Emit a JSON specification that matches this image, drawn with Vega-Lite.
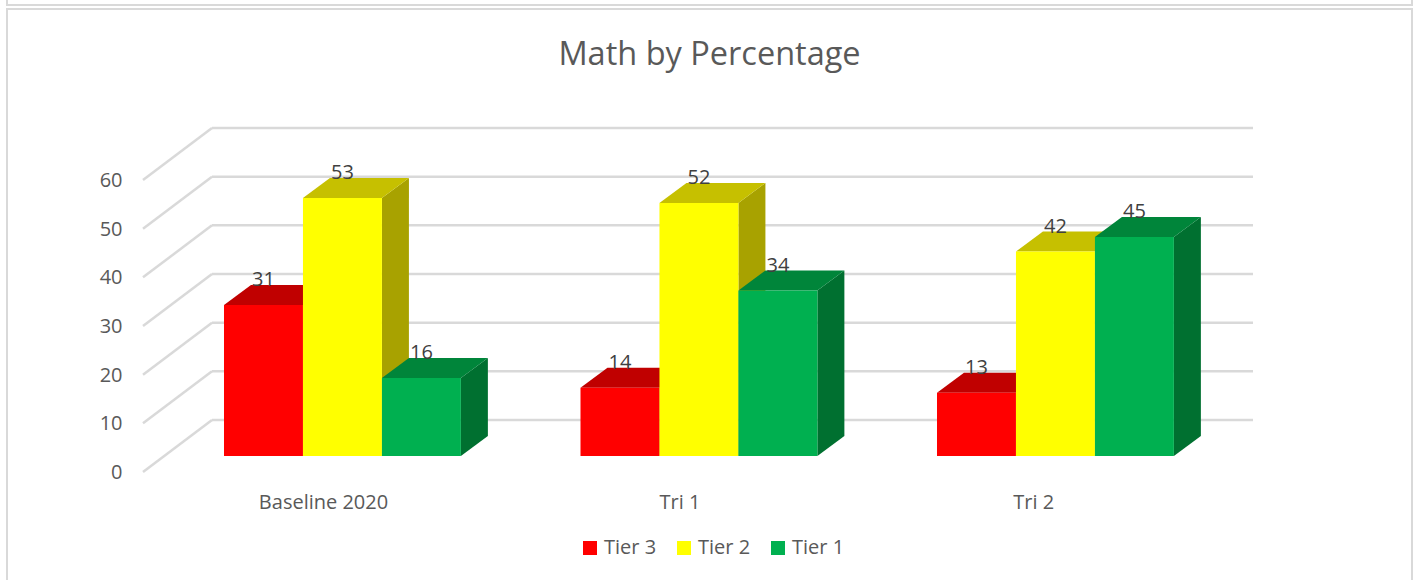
{
"$schema":"https://vega.github.io/schema/vega-lite/v6.json",
"width":1414,"height":580,"padding":0,"autosize":{"type":"none"},"background":"white",
"title":{"text":"Math by Percentage","anchor":"middle","offset":-103,"dx":2.5,"fontSize":32.5,"font":"Open Sans","fontWeight":"normal","color":"#595959"},
"config":{"view":{"stroke":null},"font":"Open Sans"},
"datasets":{
"bars":[
{"group":"Baseline 2020","tier":"Tier 3","value":31},
{"group":"Baseline 2020","tier":"Tier 2","value":53},
{"group":"Baseline 2020","tier":"Tier 1","value":16},
{"group":"Tri 1","tier":"Tier 3","value":14},
{"group":"Tri 1","tier":"Tier 2","value":52},
{"group":"Tri 1","tier":"Tier 1","value":34},
{"group":"Tri 2","tier":"Tier 3","value":13},
{"group":"Tri 2","tier":"Tier 2","value":42},
{"group":"Tri 2","tier":"Tier 1","value":45}],
"ticks":[{"tick":0},{"tick":10},{"tick":20},{"tick":30},{"tick":40},{"tick":50},{"tick":60}],
"frames":[{"panel":"upper","left":-0.6087,"right":3.3324,"top":100,"bottom":92.66},{"panel":"chart","left":-0.6087,"right":3.3324,"top":91.84,"bottom":-40}]
},
"layer":[
{"data":{"name":"frames"},"mark":{"type":"rect","filled":false,"stroke":"#D9D9D9","strokeWidth":2},
"encoding":{
"x":{"field":"left","type":"quantitative","scale":{"domain":[-0.62833,3.33801],"nice":false,"zero":false},
"axis":{"orient":"bottom","offset":-78,"values":[0.2777,1.2777,2.27],"labelExpr":"datum.value<1?'Baseline 2020':datum.value<2?'Tri 1':'Tri 2'","domain":false,"ticks":false,"grid":false,"title":null,"labelFontSize":20,"labelColor":"#595959","labelFont":"Open Sans","labelPadding":0,"labelBaseline":"middle","labelFlush":false,"labelOverlap":false}},
"x2":{"field":"right"},
"y":{"field":"top","type":"quantitative","scale":{"domain":[-25.48,93.69],"nice":false,"zero":false},
"axis":{"orient":"left","offset":-130,"values":[0,10,20,30,40,50,60],"labelOffset":16.5,"domain":false,"ticks":false,"grid":false,"title":null,"labelFontSize":20,"labelColor":"#595959","labelFont":"Open Sans","labelPadding":8}},
"y2":{"field":"bottom"}}},
{"data":{"name":"ticks"},"transform":[{"calculate":"datum.tick+7.397","as":"back"}],
"mark":{"type":"rule","color":"#D9D9D9","strokeWidth":2.5},
"encoding":{"x":{"datum":-0.03366,"type":"quantitative","scale":{"domain":[-0.62833,3.33801],"nice":false,"zero":false}},"x2":{"datum":2.8864},
"y":{"field":"back","type":"quantitative","scale":{"domain":[-25.48,93.69],"nice":false,"zero":false}}}},
{"data":{"name":"ticks"},"transform":[{"calculate":"datum.tick+7.397","as":"back"},{"calculate":"datum.tick-3.29","as":"front"}],
"mark":{"type":"rule","color":"#D9D9D9","strokeWidth":2.5},
"encoding":{"x":{"datum":-0.2272,"type":"quantitative","scale":{"domain":[-0.62833,3.33801],"nice":false,"zero":false}},"x2":{"datum":-0.03366},
"y":{"field":"front","type":"quantitative","scale":{"domain":[-25.48,93.69],"nice":false,"zero":false}},"y2":{"field":"back"}}},
{"data":{"name":"bars"},"transform":[
{"calculate":"indexof(['Baseline 2020','Tri 1','Tri 2'],datum.group)+0.2215*indexof(['Tier 3','Tier 2','Tier 1'],datum.tier)","as":"xl"},
{"calculate":"[0,1]","as":"k"},{"flatten":["k"]},
{"calculate":"datum.xl+0.2215+0.0757*datum.k","as":"px"},
{"calculate":"datum.value+4.11*datum.k","as":"hi"},
{"calculate":"4.11*datum.k","as":"lo"},
{"calculate":"datum.group+datum.tier","as":"key"}],
"mark":{"type":"area","stroke":null},
"encoding":{"x":{"field":"px","type":"quantitative","scale":{"domain":[-0.62833,3.33801],"nice":false,"zero":false}},
"y":{"field":"hi","type":"quantitative","stack":null,"scale":{"domain":[-25.48,93.69],"nice":false,"zero":false}},"y2":{"field":"lo"},
"detail":{"field":"key"},
"color":{"field":"tier","type":"nominal","legend":null,"scale":{"domain":["Tier 3","Tier 2","Tier 1"],"range":["#A60000","#A8A200","#007030"]}}}},
{"data":{"name":"bars"},"transform":[
{"calculate":"indexof(['Baseline 2020','Tri 1','Tri 2'],datum.group)+0.2215*indexof(['Tier 3','Tier 2','Tier 1'],datum.tier)","as":"xl"},
{"calculate":"[0,1,2,3]","as":"k"},{"flatten":["k"]},
{"calculate":"datum.xl+(datum.k==0?0:datum.k==1?0.0757:datum.k==2?0.2215:0.2972)","as":"px"},
{"calculate":"datum.value+(datum.k==0?0:4.11)","as":"hi"},
{"calculate":"datum.value+(datum.k==3?4.11:0)","as":"lo"},
{"calculate":"datum.group+datum.tier","as":"key"}],
"mark":{"type":"area","stroke":null},
"encoding":{"x":{"field":"px","type":"quantitative","scale":{"domain":[-0.62833,3.33801],"nice":false,"zero":false}},
"y":{"field":"hi","type":"quantitative","stack":null,"scale":{"domain":[-25.48,93.69],"nice":false,"zero":false}},"y2":{"field":"lo"},
"detail":{"field":"key"},
"color":{"field":"tier","type":"nominal","legend":null,"scale":{"domain":["Tier 3","Tier 2","Tier 1"],"range":["#C00000","#C6C000","#00853A"]}}}},
{"data":{"name":"bars"},"transform":[
{"calculate":"indexof(['Baseline 2020','Tri 1','Tri 2'],datum.group)+0.2215*indexof(['Tier 3','Tier 2','Tier 1'],datum.tier)","as":"xl"},
{"calculate":"datum.xl+0.2215","as":"xr"}],
"mark":{"type":"rect"},
"encoding":{"x":{"field":"xl","type":"quantitative","scale":{"domain":[-0.62833,3.33801],"nice":false,"zero":false}},"x2":{"field":"xr"},
"y":{"field":"value","type":"quantitative","stack":null,"scale":{"domain":[-25.48,93.69],"nice":false,"zero":false}},"y2":{"datum":0},
"color":{"field":"tier","type":"nominal","scale":{"domain":["Tier 3","Tier 2","Tier 1"],"range":["#FF0000","#FFFF00","#00B050"]},
"legend":{"title":null,"orient":"none","legendX":580,"legendY":538,"direction":"horizontal","columns":3,"symbolType":"square","symbolSize":196,"symbolStrokeWidth":0,"labelFontSize":20,"labelFont":"Open Sans","labelColor":"#595959","columnPadding":17,"labelOffset":4}}}},
{"data":{"name":"bars"},"transform":[
{"calculate":"indexof(['Baseline 2020','Tri 1','Tri 2'],datum.group)+0.2215*indexof(['Tier 3','Tier 2','Tier 1'],datum.tier)+0.1108","as":"xc"}],
"mark":{"type":"text","dy":-25,"fontSize":20,"font":"Open Sans","color":"#404040","baseline":"middle"},
"encoding":{"x":{"field":"xc","type":"quantitative","scale":{"domain":[-0.62833,3.33801],"nice":false,"zero":false}},
"y":{"field":"value","type":"quantitative","stack":null,"scale":{"domain":[-25.48,93.69],"nice":false,"zero":false}},
"text":{"field":"value","type":"quantitative"}}}
],
"resolve":{"scale":{"color":"independent"}}
}
